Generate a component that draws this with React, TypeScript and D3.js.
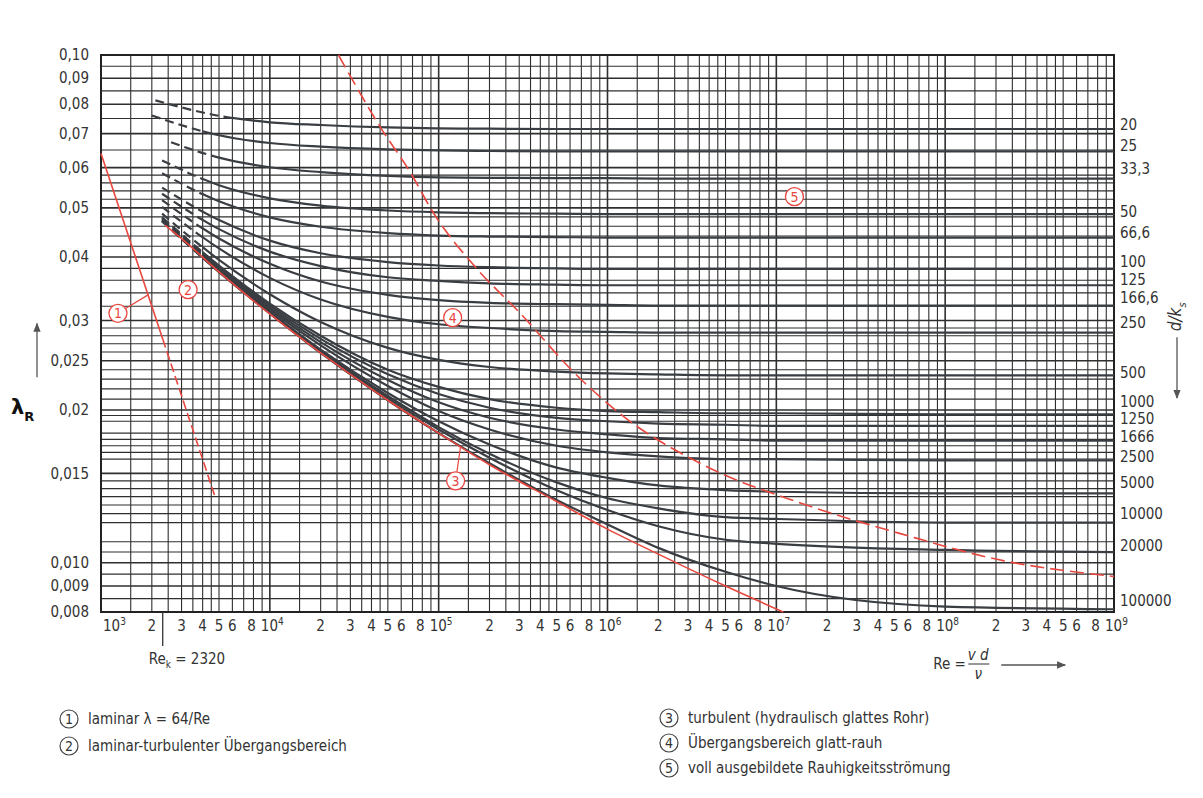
import React, { useEffect, useRef } from "react";
import * as d3 from "d3";

// Reynolds numbers where the d/k curves are sampled (first point of each curve is its own start)
const RE_GRID = [5e3, 1e4, 2e4, 5e4, 1e5, 2e5, 5e5, 1e6, 2e6, 5e6, 1e7, 1e8, 1e9];

const ratioLabels = ["20", "25", "33,3", "50", "66,6", "100", "125", "166,6", "250", "500", "1000", "1250", "1666", "2500", "5000", "10000", "20000", "100000"];
const startRe = [2.1e3, 2.0e3, 2.6e3, 2.3e3, 2.3e3, 2.3e3, 2.3e3, 2.3e3, 2.3e3, 2.3e3, 2.3e3, 2.3e3, 2.3e3, 2.3e3, 2.3e3, 2.3e3, 2.3e3, 2.3e3];
const startLambda = [0.0814, 0.076, 0.0673, 0.062, 0.0585, 0.0548, 0.0533, 0.0518, 0.0502, 0.0487, 0.0479, 0.0477, 0.0475, 0.0473, 0.0472, 0.0471, 0.0471, 0.047];
const dashEndRe = [6e3, 4e3, 4.5e3, 4e3, 4e3, 4e3, 4e3, 4e3, 4e3, 4e3, 4e3, 4e3, 4e3, 4e3, 4e3, 4e3, 4e3, 4e3];
const ratioLabelLambda = [0.0728, 0.0663, 0.0598, 0.0491, 0.0447, 0.0392, 0.0361, 0.0332, 0.0297, 0.0237, 0.0208, 0.0192, 0.0177, 0.0162, 0.0144, 0.0125, 0.0108, 0.0084];

const lam20 = [0.0759, 0.0737, 0.0728, 0.072, 0.0717, 0.0716, 0.0715, 0.0715, 0.0715, 0.0715, 0.0715, 0.0715, 0.0715];
const lam25 = [0.0695, 0.0671, 0.066, 0.0652, 0.0649, 0.0647, 0.0646, 0.0646, 0.0646, 0.0646, 0.0646, 0.0646, 0.0646];
const lam33 = [0.0628, 0.0601, 0.0588, 0.0578, 0.0574, 0.0573, 0.0572, 0.0572, 0.0571, 0.0571, 0.0571, 0.0571, 0.0571];
const lam50 = [0.0554, 0.0522, 0.0505, 0.0494, 0.049, 0.0488, 0.0487, 0.0486, 0.0486, 0.0486, 0.0486, 0.0486, 0.0486];
const lam66 = [0.0515, 0.0479, 0.0459, 0.0446, 0.0441, 0.0439, 0.0438, 0.0437, 0.0437, 0.0437, 0.0437, 0.0437, 0.0437];
const lam100 = [0.0473, 0.0431, 0.0407, 0.0391, 0.0385, 0.0382, 0.038, 0.0379, 0.0379, 0.0379, 0.0379, 0.0379, 0.0379];
const lam125 = [0.0454, 0.041, 0.0384, 0.0365, 0.0359, 0.0355, 0.0353, 0.0352, 0.0352, 0.0352, 0.0352, 0.0352, 0.0352];
const lam166 = [0.0435, 0.0388, 0.0358, 0.0337, 0.0329, 0.0325, 0.0323, 0.0322, 0.0321, 0.0321, 0.0321, 0.0321, 0.0321];
const lam250 = [0.0416, 0.0364, 0.033, 0.0305, 0.0295, 0.029, 0.0286, 0.0285, 0.0284, 0.0284, 0.0284, 0.0284, 0.0284];
const lam500 = [0.0395, 0.0338, 0.0298, 0.0265, 0.0251, 0.0243, 0.0238, 0.0236, 0.0235, 0.0234, 0.0234, 0.0234, 0.0234];
const lam1000 = [0.0385, 0.0324, 0.028, 0.024, 0.0222, 0.021, 0.0202, 0.0199, 0.0198, 0.0197, 0.0197, 0.0196, 0.0196];
const lam1250 = [0.0383, 0.0321, 0.0276, 0.0235, 0.0215, 0.0202, 0.0193, 0.019, 0.0188, 0.0187, 0.0186, 0.0186, 0.0186];
const lam1666 = [0.0381, 0.0318, 0.0272, 0.0229, 0.0207, 0.0193, 0.0183, 0.0179, 0.0176, 0.0175, 0.0174, 0.0174, 0.0174];
const lam2500 = [0.0378, 0.0315, 0.0268, 0.0223, 0.0199, 0.0183, 0.017, 0.0165, 0.0162, 0.016, 0.016, 0.0159, 0.0159];
const lam5000 = [0.0376, 0.0312, 0.0263, 0.0216, 0.019, 0.0171, 0.0154, 0.0147, 0.0142, 0.0139, 0.0138, 0.0137, 0.0137];
const lam10000 = [0.0375, 0.0311, 0.0261, 0.0213, 0.0185, 0.0164, 0.0144, 0.0134, 0.0128, 0.0123, 0.0122, 0.012, 0.012];
const lam20000 = [0.0374, 0.031, 0.026, 0.0211, 0.0183, 0.0161, 0.0139, 0.0127, 0.0118, 0.0111, 0.0109, 0.0106, 0.0105];
const lam100000 = [0.0374, 0.031, 0.0259, 0.0209, 0.018, 0.0157, 0.0133, 0.0119, 0.0107, 0.0096, 0.009, 0.0082, 0.0081];

// red lines
const laminarRe = [1e3, 2320, 4700];
const laminarLambda = [0.064, 0.0276, 0.0136];
const smoothRe = [2.4e3, 3e3, 5e3, 1e4, 2e4, 5e4, 1e5, 2e5, 5e5, 1e6, 2e6, 5e6, 1.1e7];
const smoothLambda = [0.0462, 0.0435, 0.0374, 0.0309, 0.0259, 0.0209, 0.018, 0.0156, 0.0132, 0.01165, 0.0104, 0.009, 0.008];
const boundaryRe = [2.55e4, 4.5e4, 6.8e4, 9.3e4, 1.7e5, 3.1e5, 6.1e5, 1.2e6, 3.6e6, 1.4e7, 5.5e7, 2.2e8, 1e9];
const boundaryLambda = [0.1, 0.0722, 0.0587, 0.0489, 0.0378, 0.0308, 0.024, 0.0196, 0.01565, 0.0131, 0.0114, 0.0101, 0.0094];

// annotations (circled numbers)
const annoText = ["1", "2", "3", "4", "5"];
const annoRe = [1.26e3, 3.28e3, 1.26e5, 1.21e5, 1.28e7];
const annoLambda = [0.031, 0.0345, 0.0145, 0.0304, 0.0526];
const leaderIndex = [0, 2];
const leaderRe = [1.9e3, 1.35e5];
const leaderLambda = [0.0337, 0.017];

// axis ticks
const yTickValues = [0.1, 0.09, 0.08, 0.07, 0.06, 0.05, 0.04, 0.03, 0.025, 0.02, 0.015, 0.01, 0.009, 0.008];
const yTickLabels = ["0,10", "0,09", "0,08", "0,07", "0,06", "0,05", "0,04", "0,03", "0,025", "0,02", "0,015", "0,010", "0,009", "0,008"];
const yGrid = [0.1, 0.095, 0.09, 0.085, 0.08, 0.075, 0.07, 0.065, 0.06, 0.058, 0.056, 0.054, 0.052, 0.05, 0.048, 0.046, 0.044, 0.042, 0.04, 0.038, 0.036, 0.034, 0.032, 0.03, 0.029, 0.028, 0.027, 0.026, 0.025, 0.024, 0.023, 0.022, 0.021, 0.02, 0.0195, 0.019, 0.018, 0.0175, 0.017, 0.0165, 0.016, 0.015, 0.0145, 0.014, 0.0135, 0.013, 0.0125, 0.012, 0.011, 0.0105, 0.01, 0.0095, 0.009, 0.0085, 0.008];
const decades = [3, 4, 5, 6, 7, 8, 9];
const xGridMult = [1, 1.5, 2, 2.5, 3, 3.5, 4, 4.5, 5, 6, 7, 8, 9];
const xLabelMult = [2, 3, 4, 5, 6, 8];

const legendLeft = ["laminar λ = 64/Re", "laminar-turbulenter Übergangsbereich"];
const legendRight = ["turbulent (hydraulisch glattes Rohr)", "Übergangsbereich glatt-rauh", "voll ausgebildete Rauhigkeitsströmung"];

const FONT = '"DejaVu Sans Condensed", "Liberation Sans Narrow", "Open Sans", sans-serif';
const RED = "#e8473f";
const INK = "#3a3e43";

const App = () => {
  const ref = useRef<SVGSVGElement>(null);

  useEffect(() => {
    const width = 1203;
    const height = 798;
    const plot = { left: 101, right: 1114, top: 55, bottom: 612 };

    const svg = d3.select(ref.current);
    svg.selectAll("*").remove();
    svg.attr("width", width).attr("height", height).style("background", "#fff");

    const x = d3.scaleLog().domain([1e3, 1e9]).range([plot.left, plot.right]);
    const y = d3.scaleLog().domain([0.008, 0.1]).range([plot.bottom, plot.top]);

    const defs = svg.append("defs");
    defs
      .append("marker")
      .attr("id", "arr")
      .attr("viewBox", "0 0 10 10")
      .attr("refX", 9)
      .attr("refY", 5)
      .attr("markerWidth", 7)
      .attr("markerHeight", 9)
      .attr("orient", "auto")
      .append("path")
      .attr("d", "M0,1 L10,5 L0,9 Z")
      .attr("fill", "#555");

    // grid
    const grid = svg.append("g");
    const xGrid: number[] = [];
    decades.forEach((d) => {
      if (d === 9) xGrid.push(1e9);
      else xGridMult.forEach((m) => xGrid.push(m * Math.pow(10, d)));
    });
    grid
      .selectAll("line.v")
      .data(xGrid)
      .join("line")
      .attr("x1", (d) => x(d))
      .attr("x2", (d) => x(d))
      .attr("y1", plot.top)
      .attr("y2", plot.bottom)
      .attr("stroke", "#2f2f2f")
      .attr("stroke-width", (d) => (Math.abs(Math.log10(d) % 1) < 1e-6 ? 1.6 : 1.1));
    grid
      .selectAll("line.h")
      .data(yGrid)
      .join("line")
      .attr("x1", plot.left)
      .attr("x2", plot.right)
      .attr("y1", (d) => y(d))
      .attr("y2", (d) => y(d))
      .attr("stroke", "#2f2f2f")
      .attr("stroke-width", (d) => (yTickValues.includes(d) ? 1.6 : 1.1));
    grid
      .append("rect")
      .attr("x", plot.left)
      .attr("y", plot.top)
      .attr("width", plot.right - plot.left)
      .attr("height", plot.bottom - plot.top)
      .attr("fill", "none")
      .attr("stroke", "#222")
      .attr("stroke-width", 2);

    // d/k curves
    const ratioCurves = [lam20, lam25, lam33, lam50, lam66, lam100, lam125, lam166, lam250, lam500, lam1000, lam1250, lam1666, lam2500, lam5000, lam10000, lam20000, lam100000];
    const line = d3
      .line<[number, number]>()
      .x((d) => x(d[0]))
      .y((d) => y(d[1]))
      .curve(d3.curveMonotoneX);

    const curves = svg.append("g").attr("fill", "none").attr("stroke", INK).attr("stroke-width", 2.2);
    ratioCurves.forEach((vals, i) => {
      const pts: [number, number][] = [[startRe[i], startLambda[i]], ...RE_GRID.map((r, j) => [r, vals[j]] as [number, number])];
      const xd = x(dashEndRe[i]);
      defs.append("clipPath").attr("id", `cd${i}`).append("rect").attr("x", 0).attr("y", 0).attr("width", xd).attr("height", height);
      defs.append("clipPath").attr("id", `cs${i}`).append("rect").attr("x", xd).attr("y", 0).attr("width", width - xd).attr("height", height);
      curves.append("path").attr("d", line(pts)).attr("clip-path", `url(#cd${i})`).attr("stroke-dasharray", "9,5");
      curves.append("path").attr("d", line(pts)).attr("clip-path", `url(#cs${i})`);
    });

    // red lines
    const red = svg.append("g").attr("fill", "none").attr("stroke", RED).attr("stroke-width", 1.6);
    const straight = d3
      .line<[number, number]>()
      .x((d) => x(d[0]))
      .y((d) => y(d[1]));
    const lamPts = laminarRe.map((r, i) => [r, laminarLambda[i]] as [number, number]);
    red.append("path").attr("d", straight(lamPts.slice(0, 2)));
    red.append("path").attr("d", straight(lamPts.slice(1))).attr("stroke-dasharray", "9,4");
    red.append("path").attr("d", line(smoothRe.map((r, i) => [r, smoothLambda[i]] as [number, number])));
    red
      .append("path")
      .attr("d", line(boundaryRe.map((r, i) => [r, boundaryLambda[i]] as [number, number])))
      .attr("stroke-dasharray", "14,6");

    // circled annotations
    const rC = 9;
    const anno = svg.append("g");
    leaderIndex.forEach((ai, k) => {
      const cx = x(annoRe[ai]);
      const cy = y(annoLambda[ai]);
      const tx = x(leaderRe[k]);
      const ty = y(leaderLambda[k]);
      const len = Math.hypot(tx - cx, ty - cy);
      anno
        .append("line")
        .attr("x1", cx + ((tx - cx) / len) * rC)
        .attr("y1", cy + ((ty - cy) / len) * rC)
        .attr("x2", tx)
        .attr("y2", ty)
        .attr("stroke", RED)
        .attr("stroke-width", 1.2);
    });
    annoText.forEach((t, i) => {
      const g = anno.append("g").attr("transform", `translate(${x(annoRe[i])},${y(annoLambda[i])})`);
      g.append("circle").attr("r", rC).attr("fill", "#fff").attr("stroke", RED).attr("stroke-width", 1.3);
      g.append("text")
        .text(t)
        .attr("text-anchor", "middle")
        .attr("dy", "0.36em")
        .attr("fill", RED)
        .style("font-family", FONT)
        .style("font-size", "14px");
    });

    // y tick labels
    const txt = svg.append("g").attr("fill", "#333").style("font-family", FONT).style("font-size", "15px");
    yTickValues.forEach((v, i) => {
      txt
        .append("text")
        .text(yTickLabels[i])
        .attr("x", 89)
        .attr("y", y(v))
        .attr("dy", "0.35em")
        .attr("text-anchor", "end");
    });

    // x tick labels
    const xLabY = plot.bottom + 19;
    decades.forEach((d) => {
      const t = txt
        .append("text")
        .attr("x", d === 3 ? x(1e3) + 2 : x(Math.pow(10, d)) - 9)
        .attr("y", xLabY)
        .attr("text-anchor", "start");
      t.append("tspan").text("10");
      t.append("tspan").text(String(d)).attr("dy", -6).style("font-size", "10px");
      if (d < 9) {
        xLabelMult.forEach((m) => {
          txt
            .append("text")
            .text(String(m))
            .attr("x", x(m * Math.pow(10, d)) - (m === 8 ? 2 : 0))
            .attr("y", xLabY)
            .attr("text-anchor", "middle");
        });
      }
    });

    // critical Reynolds number marker
    txt
      .append("line")
      .attr("x1", x(2320))
      .attr("x2", x(2320))
      .attr("y1", plot.bottom)
      .attr("y2", plot.bottom + 34)
      .attr("stroke", "#333")
      .attr("stroke-width", 1.3);
    const rek = txt.append("text").attr("x", x(2320) - 14).attr("y", plot.bottom + 52);
    rek.append("tspan").text("Re");
    rek.append("tspan").text("k").attr("dy", 4).style("font-size", "10px");
    rek.append("tspan").text(" = 2320").attr("dy", -4);

    // Re = vd/nu
    const reX = x(8.5e7);
    const reY = plot.bottom + 52;
    txt.append("text").text("Re =").attr("x", reX).attr("y", reY + 5);
    txt.append("text").text("v d").attr("x", reX + 45).attr("y", reY - 4).attr("text-anchor", "middle").style("font-style", "italic");
    txt.append("line").attr("x1", reX + 35).attr("x2", reX + 56).attr("y1", reY).attr("y2", reY).attr("stroke", "#333");
    txt.append("text").text("ν").attr("x", reX + 45).attr("y", reY + 15).attr("text-anchor", "middle").style("font-style", "italic");
    txt
      .append("line")
      .attr("x1", reX + 68)
      .attr("x2", reX + 132)
      .attr("y1", reY + 1)
      .attr("y2", reY + 1)
      .attr("stroke", "#555")
      .attr("stroke-width", 1.3)
      .attr("marker-end", "url(#arr)");

    // right labels d/k
    ratioLabels.forEach((lab, i) => {
      txt
        .append("text")
        .text(lab)
        .attr("x", plot.right + 6)
        .attr("y", y(ratioLabelLambda[i]))
        .attr("dy", "0.35em");
    });
    const dk = txt
      .append("text")
      .attr("transform", `translate(${plot.right + 67},${y(0.0305)}) rotate(-90)`)
      .attr("text-anchor", "middle")
      .style("font-size", "17px")
      .style("font-style", "italic");
    dk.append("tspan").text("d/k");
    dk.append("tspan").text("s").attr("dy", 5).style("font-size", "11px");
    txt
      .append("line")
      .attr("x1", plot.right + 63)
      .attr("x2", plot.right + 63)
      .attr("y1", y(0.0278))
      .attr("y2", y(0.0211))
      .attr("stroke", "#555")
      .attr("stroke-width", 1.3)
      .attr("marker-end", "url(#arr)");

    // lambda_R axis label
    txt
      .append("line")
      .attr("x1", 37)
      .attr("x2", 37)
      .attr("y1", y(0.0232))
      .attr("y2", y(0.0296))
      .attr("stroke", "#555")
      .attr("stroke-width", 1.3)
      .attr("marker-end", "url(#arr)");
    const lr = svg
      .append("text")
      .attr("x", 11)
      .attr("y", y(0.0196))
      .attr("fill", "#111")
      .style("font-family", "DejaVu Sans, sans-serif")
      .style("font-weight", "bold");
    lr.append("tspan").text("λ").style("font-size", "21px");
    lr.append("tspan").text("R").attr("dy", 7).style("font-size", "13px");

    // legend
    const leg = svg.append("g").attr("fill", "#333").style("font-family", FONT).style("font-size", "15px");
    const legRow = (cx: number, cy: number, n: string, label: string) => {
      leg.append("circle").attr("cx", cx).attr("cy", cy).attr("r", 9).attr("fill", "none").attr("stroke", "#444").attr("stroke-width", 1.2);
      leg.append("text").text(n).attr("x", cx).attr("y", cy).attr("dy", "0.36em").attr("text-anchor", "middle").style("font-size", "14px");
      leg.append("text").text(label).attr("x", cx + 19).attr("y", cy).attr("dy", "0.36em");
    };
    legendLeft.forEach((l, i) => legRow(69, 719 + i * 27, annoText[i], l));
    legendRight.forEach((l, i) => legRow(669, 718 + i * 25, annoText[i + 2], l));
  }, []);

  return (
    <div style={{ position: "absolute", left: 0, top: 0 }}>
      <svg ref={ref}></svg>
    </div>
  );
};

export default App;
